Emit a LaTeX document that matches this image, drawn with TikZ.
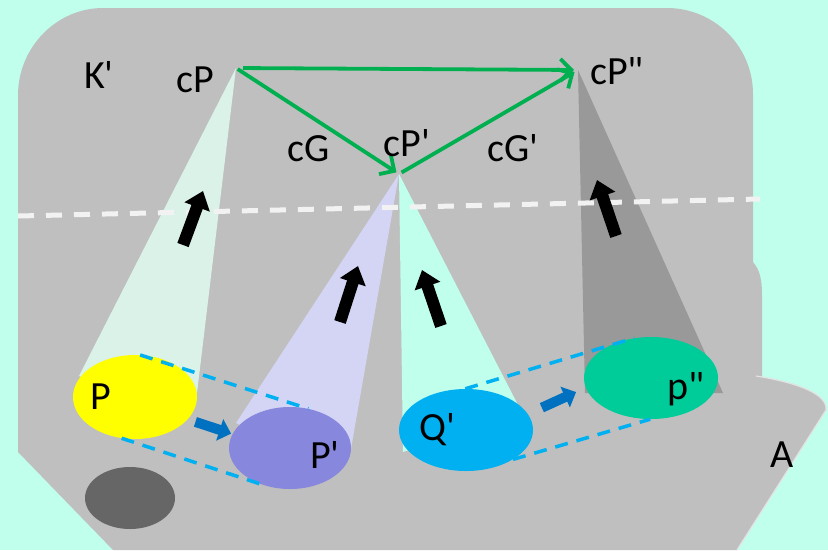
\documentclass[tikz,border=0pt]{standalone}
\usepackage{fontspec}
\newfontfamily\lblfont{Carlito}
\usetikzlibrary{positioning}
\usetikzlibrary{calc}
\usetikzlibrary{arrows.meta}
\usetikzlibrary{shapes.geometric}
\definecolor{bgmint}{RGB}{192,255,236}
\definecolor{panel}{RGB}{191,191,191}
\definecolor{beammint}{RGB}{218,242,232}
\definecolor{beamlav}{RGB}{212,212,244}
\definecolor{beamdark}{RGB}{153,153,153}
\definecolor{spotP}{RGB}{255,255,0}
\definecolor{spotPp}{RGB}{135,135,221}
\definecolor{spotQ}{RGB}{0,176,240}
\definecolor{spotPpp}{RGB}{0,204,153}
\definecolor{spotD}{RGB}{102,102,102}
\definecolor{mapgreen}{RGB}{0,176,80}
\definecolor{shiftblue}{RGB}{0,112,192}
\definecolor{cutline}{RGB}{242,242,242}

\begin{document}
\begin{tikzpicture}[x=1pt, y=-1pt,
    every node/.style={font=\lblfont\fontsize{40}{40}\selectfont, inner sep=0pt},
    spot/.style={ellipse, draw=none, inner sep=0pt},
    lift/.style={line width=12pt, -{Triangle[length=17pt, width=26pt]}},
    slide/.style={shiftblue, line width=10pt, -{Triangle[length=12pt, width=22pt]}},
    trace/.style={spotQ, line width=3.5pt, dash pattern=on 13pt off 9pt},
    map/.style={mapgreen, line width=3.8pt, -{Straight Barb[length=11pt, width=22pt]}}]
    \useasboundingbox (0,0) rectangle (828,550);
    \fill[bgmint] (0,0) rectangle (828,550);

    \fill[panel] (18,452) -- (18,95) .. controls (18,48) and (56,8) .. (103,8)
        -- (667,8) .. controls (714,8) and (753,46) .. (753,94) -- (753,262)
        .. controls (760,270) and (762,280) .. (762,295) -- (762,377)
        .. controls (800,383) and (828,395) .. (826,410) -- (737,550) -- (113,550) -- cycle;
    \draw[cutline!70!panel, line width=1.2pt] (756,376) .. controls (800,383) and (828,395) .. (826,410) -- (737,550);

    \coordinate (apexP) at (236,68);
    \coordinate (apexPp) at (399,174);
    \coordinate (apexPpp) at (578,70);

    \fill[beammint] (apexP) -- (79,376) -- (135,397) -- (197,393) -- cycle;
    \fill[beamlav] (apexPp) -- (236,423) -- (290,448) -- (351,449) -- cycle;
    \fill[bgmint] (apexPp) -- (403,452) -- (466,430) -- (518,405) -- cycle;
    \fill[beamdark] (apexPpp) -- (585,393) -- (723,393) -- cycle;

    \draw[cutline, line width=5pt, dash pattern=on 16pt off 12pt] (18,216) -- (760,199);

    \node[spot, fill=spotP, minimum width=124, minimum height=84] (P) at (135,397) {};
    \node[spot, fill=spotPp, minimum width=122, minimum height=82] (Pp) at (290,448) {};
    \node[spot, fill=spotQ, minimum width=134, minimum height=82] (Q) at (466,430) {};
    \node[spot, fill=spotPpp, minimum width=134, minimum height=82] (Ppp) at (651,378) {};
    \node[spot, fill=spotD, minimum width=90, minimum height=62] (D) at (130,498) {};

    \draw[trace] (P.83) -- (Pp.65);
    \draw[trace] (P.252) -- (Pp.238);
    \draw[trace] (Q.91) -- (Ppp.113);
    \draw[trace] (Q.328) -- (Ppp.269);

    \foreach \xa/\ya/\xb/\yb in {183/245/203/191, 340/322/358/266, 441/326/422/270, 616/236/597/180} {
        \draw[lift] (\xa,\ya) -- (\xb,\yb);
    }

    \draw[slide] ($(P)!0.39!(Pp)+(0,5)$) -- ($(P)!0.62!(Pp)+(0,5)$);
    \draw[slide] ($(Q)!0.41!(Ppp)+(0,-1)$) -- ($(Q)!0.595!(Ppp)+(0,-7)$);

    \draw[map, shorten <=7pt, shorten >=4pt] (apexP) -- (apexPpp);
    \draw[map, shorten <=2pt, shorten >=3pt] (apexP) -- (apexPp);
    \draw[map, shorten <=3pt, shorten >=4pt] (apexPp) -- (apexPpp);

    \node (lK) at (99,75) {K'};
    \node (lcP) at (195,80) {cP};
    \node (lcPpp) at (617,71) {cP"};
    \node (lcG) at (309,149) {cG};
    \node (lcPp) at (407,143) {cP'};
    \node (lcGp) at (513,148) {cG'};
    \node (lP) at (101,397) {P};
    \node (lPp) at (325,455) {P'};
    \node (lQ) at (437,430) {Q'};
    \node (lPpp) at (686,389) {p"};
    \node (lA) at (782,455) {A};
\end{tikzpicture}
\end{document}
